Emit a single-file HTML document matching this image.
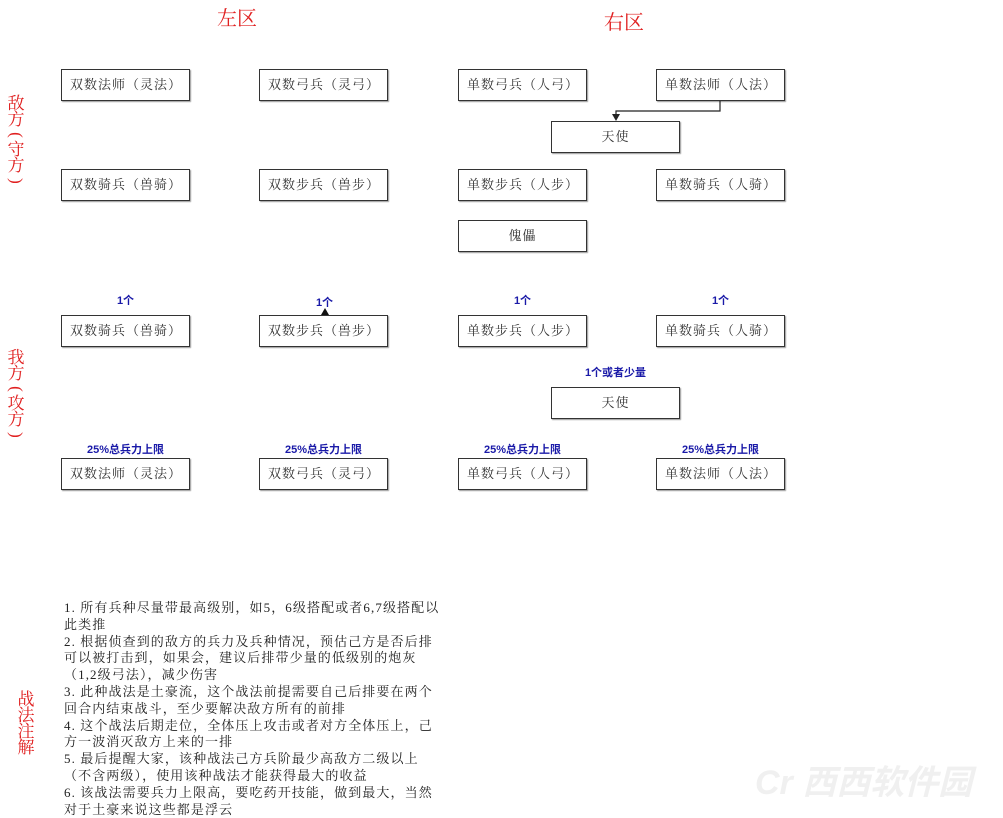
<!DOCTYPE html>
<html><head><meta charset="utf-8"><style>
body{margin:0;width:1003px;height:818px;background:#fff;position:relative;overflow:hidden;font-family:"Liberation Sans","Noto Sans CJK SC",sans-serif}
.b{position:absolute;width:127px;height:30px;border:1px solid #333;box-shadow:1px 1px 1px #999;font-family:"Liberation Serif","Noto Serif CJK SC",serif;font-size:13px;color:#333;line-height:30px;box-sizing:content-box;letter-spacing:1px;white-space:nowrap}
.b span{padding-left:8px}
.c{text-align:center}
.r{position:absolute;color:#e02020;font-family:"Liberation Serif","Noto Serif CJK SC",serif}
.v{position:absolute;color:#e02020;font-size:17px;width:20px;line-height:16px;text-align:center;font-family:"Liberation Serif","Noto Serif CJK SC",serif}
.v i{display:block;font-style:normal;transform:rotate(90deg);height:14px;line-height:14px}
.l{position:absolute;color:#1a1aa8;font-weight:bold;font-size:11px;text-align:center;width:129px}
.n{position:absolute;left:64px;top:600px;width:440px;font-family:"Liberation Serif","Noto Serif CJK SC",serif;font-size:13px;line-height:16.8px;color:#222;white-space:nowrap;letter-spacing:1.1px}
</style></head><body>
<div class="r" style="left:217px;top:2px;font-size:20px">左区</div>
<div class="r" style="left:604px;top:6px;font-size:20px">右区</div>
<div class="v" style="left:6px;top:96px">敌<br>方<i>(</i>守<br>方<i>)</i></div>
<div class="v" style="left:6px;top:350px">我<br>方<i>(</i>攻<br>方<i>)</i></div>
<div class="v" style="left:16px;top:692px">战<br>法<br>注<br>解</div>

<div class="b" style="left:61px;top:69px"><span>双数法师（灵法）</span></div>
<div class="b" style="left:259px;top:69px"><span>双数弓兵（灵弓）</span></div>
<div class="b" style="left:458px;top:69px"><span>单数弓兵（人弓）</span></div>
<div class="b" style="left:656px;top:69px"><span>单数法师（人法）</span></div>
<div class="b c" style="left:551px;top:121px">天使</div>
<div class="b" style="left:61px;top:169px"><span>双数骑兵（兽骑）</span></div>
<div class="b" style="left:259px;top:169px"><span>双数步兵（兽步）</span></div>
<div class="b" style="left:458px;top:169px"><span>单数步兵（人步）</span></div>
<div class="b" style="left:656px;top:169px"><span>单数骑兵（人骑）</span></div>
<div class="b c" style="left:458px;top:220px">傀儡</div>

<div class="l" style="left:61px;top:292px">1个</div>
<div class="l" style="left:260px;top:294px">1个</div>
<div class="l" style="left:458px;top:292px">1个</div>
<div class="l" style="left:656px;top:292px">1个</div>
<div class="b" style="left:61px;top:315px"><span>双数骑兵（兽骑）</span></div>
<div class="b" style="left:259px;top:315px"><span>双数步兵（兽步）</span></div>
<div class="b" style="left:458px;top:315px"><span>单数步兵（人步）</span></div>
<div class="b" style="left:656px;top:315px"><span>单数骑兵（人骑）</span></div>
<div class="l" style="left:551px;top:364px">1个或者少量</div>
<div class="b c" style="left:551px;top:387px">天使</div>
<div class="l" style="left:61px;top:441px">25%总兵力上限</div>
<div class="l" style="left:259px;top:441px">25%总兵力上限</div>
<div class="l" style="left:458px;top:441px">25%总兵力上限</div>
<div class="l" style="left:656px;top:441px">25%总兵力上限</div>
<div class="b" style="left:61px;top:458px"><span>双数法师（灵法）</span></div>
<div class="b" style="left:259px;top:458px"><span>双数弓兵（灵弓）</span></div>
<div class="b" style="left:458px;top:458px"><span>单数弓兵（人弓）</span></div>
<div class="b" style="left:656px;top:458px"><span>单数法师（人法）</span></div>

<svg style="position:absolute;left:0;top:0" width="1003" height="818">
<polyline points="720,101 720,111 616,111 616,116" fill="none" stroke="#222" stroke-width="1.2"/>
<polygon points="612,114 620,114 616,121" fill="#222"/>
<polygon points="321,315 329,315 325,308" fill="#111"/>
</svg>

<div class="n">1. 所有兵种尽量带最高级别，如5，6级搭配或者6,7级搭配以<br>此类推<br>2. 根据侦查到的敌方的兵力及兵种情况，预估己方是否后排<br>可以被打击到，如果会，建议后排带少量的低级别的炮灰<br>（1,2级弓法），减少伤害<br>3. 此种战法是土豪流，这个战法前提需要自己后排要在两个<br>回合内结束战斗，至少要解决敌方所有的前排<br>4. 这个战法后期走位，全体压上攻击或者对方全体压上，己<br>方一波消灭敌方上来的一排<br>5. 最后提醒大家，该种战法己方兵阶最少高敌方二级以上<br>（不含两级），使用该种战法才能获得最大的收益<br>6. 该战法需要兵力上限高，要吃药开技能，做到最大，当然<br>对于土豪来说这些都是浮云</div>

<div style="position:absolute;left:755px;top:755px;color:#f0f0f0;font-size:34px;font-weight:bold;font-style:italic">Cr 西西软件园</div>
</body></html>
